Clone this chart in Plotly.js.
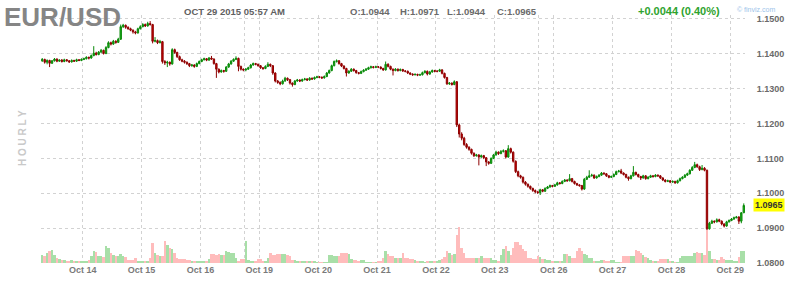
<!DOCTYPE html>
<html>
<head>
<meta charset="utf-8">
<script src="https://cdn.plot.ly/plotly-3.0.1.min.js"></script>
<style>html,body{margin:0;padding:0;background:#fff;}#chart{width:800px;height:294px;}</style>
</head>
<body>
<div id="chart"></div>
<script>
// Hourly EUR/USD bars, Oct 13 2015 07:00 -> Oct 29 2015 05:00 (one value per bar)
const opens = [
1.1380,1.1384,1.1376,1.1381,1.1373,1.1380,1.1385,1.1379,1.1382,1.1378,
1.1383,1.1380,1.1377,1.1381,1.1379,1.1383,1.1381,1.1384,1.1386,1.1390,
1.1388,1.1395,1.1402,1.1398,1.1405,1.1410,1.1401,1.1418,1.1432,1.1428,
1.1436,1.1433,1.1442,1.1478,1.1482,1.1476,1.1472,1.1468,1.1463,1.1460,
1.1472,1.1478,1.1484,1.1480,1.1487,1.1484,1.1436,1.1438,1.1432,1.1435,
1.1378,1.1374,1.1376,1.1371,1.1412,1.1404,1.1392,1.1383,1.1379,1.1376,
1.1372,1.1366,1.1368,1.1364,1.1372,1.1378,1.1383,1.1386,1.1382,1.1388,
1.1385,1.1372,1.1356,1.1348,1.1352,1.1350,1.1362,1.1371,1.1379,1.1384,
1.1387,1.1364,1.1356,1.1354,1.1356,1.1360,1.1368,1.1372,1.1370,1.1366,
1.1360,1.1358,1.1364,1.1370,1.1366,1.1345,1.1322,1.1318,1.1314,1.1322,
1.1330,1.1326,1.1316,1.1312,1.1322,1.1325,1.1322,1.1326,1.1328,1.1325,
1.1330,1.1328,1.1332,1.1334,1.1333,1.1331,1.1335,1.1345,1.1352,1.1366,
1.1378,1.1380,1.1372,1.1365,1.1358,1.1345,1.1350,1.1356,1.1352,1.1346,
1.1344,1.1349,1.1353,1.1356,1.1360,1.1363,1.1361,1.1363,1.1362,1.1358,
1.1354,1.1370,1.1364,1.1356,1.1352,1.1356,1.1352,1.1355,1.1351,1.1350,
1.1345,1.1342,1.1340,1.1341,1.1339,1.1340,1.1346,1.1350,1.1342,1.1348,
1.1352,1.1350,1.1350,1.1354,1.1344,1.1332,1.1314,1.1316,1.1312,1.1320,
1.1196,1.1170,1.1158,1.1140,1.1132,1.1126,1.1115,1.1108,1.1110,1.1104,
1.1108,1.1102,1.1090,1.1086,1.1100,1.1110,1.1118,1.1114,1.1120,1.1122,
1.1104,1.1128,1.1118,1.1092,1.1062,1.1050,1.1046,1.1032,1.1026,1.1020,
1.1014,1.1008,1.1004,1.1002,1.1010,1.1006,1.1014,1.1018,1.1022,1.1020,
1.1024,1.1030,1.1028,1.1034,1.1038,1.1036,1.1042,1.1034,1.1028,1.1024,
1.1022,1.1012,1.1040,1.1046,1.1050,1.1052,1.1044,1.1048,1.1052,1.1058,
1.1056,1.1050,1.1046,1.1048,1.1054,1.1062,1.1064,1.1058,1.1054,1.1046,
1.1042,1.1050,1.1060,1.1054,1.1048,1.1044,1.1050,1.1042,1.1046,1.1050,
1.1048,1.1052,1.1050,1.1044,1.1038,1.1034,1.1036,1.1032,1.1034,1.1030,
1.1036,1.1042,1.1046,1.1052,1.1056,1.1066,1.1074,1.1082,1.1076,1.1068,
1.1072,1.1066,1.0898,1.0914,1.0920,1.0918,1.0924,1.0920,1.0912,1.0906,
1.0918,1.0922,1.0926,1.0930,1.0932,1.0920,1.0944];

const highs = [
1.1388,1.1386,1.1384,1.1383,1.1382,1.1388,1.1387,1.1384,1.1385,1.1386,
1.1385,1.1382,1.1384,1.1383,1.1386,1.1385,1.1387,1.1389,1.1393,1.1392,
1.1398,1.1422,1.1406,1.1408,1.1414,1.1412,1.1422,1.1436,1.1435,1.1440,
1.1439,1.1446,1.1484,1.1486,1.1484,1.1479,1.1475,1.1470,1.1466,1.1475,
1.1482,1.1488,1.1487,1.1492,1.1494,1.1486,1.1448,1.1441,1.1440,1.1437,
1.1382,1.1380,1.1378,1.1416,1.1415,1.1406,1.1395,1.1386,1.1382,1.1378,
1.1374,1.1371,1.1370,1.1375,1.1381,1.1386,1.1389,1.1388,1.1391,1.1394,
1.1387,1.1374,1.1358,1.1355,1.1354,1.1365,1.1374,1.1382,1.1387,1.1393,
1.1389,1.1366,1.1358,1.1359,1.1363,1.1371,1.1375,1.1374,1.1372,1.1368,
1.1362,1.1367,1.1376,1.1372,1.1368,1.1347,1.1325,1.1321,1.1326,1.1334,
1.1332,1.1328,1.1318,1.1325,1.1328,1.1327,1.1329,1.1331,1.1330,1.1333,
1.1332,1.1335,1.1337,1.1336,1.1335,1.1338,1.1348,1.1355,1.1369,1.1381,
1.1384,1.1382,1.1374,1.1367,1.1360,1.1353,1.1359,1.1358,1.1354,1.1348,
1.1352,1.1356,1.1359,1.1363,1.1366,1.1365,1.1366,1.1365,1.1364,1.1360,
1.1378,1.1373,1.1366,1.1358,1.1359,1.1358,1.1358,1.1357,1.1353,1.1352,
1.1347,1.1344,1.1344,1.1343,1.1343,1.1349,1.1353,1.1352,1.1351,1.1355,
1.1354,1.1353,1.1357,1.1356,1.1346,1.1334,1.1319,1.1318,1.1324,1.1322,
1.1200,1.1175,1.1162,1.1144,1.1135,1.1128,1.1117,1.1113,1.1112,1.1111,
1.1110,1.1104,1.1092,1.1103,1.1113,1.1122,1.1120,1.1124,1.1126,1.1124,
1.1138,1.1131,1.1120,1.1094,1.1065,1.1053,1.1048,1.1035,1.1028,1.1022,
1.1016,1.1011,1.1007,1.1013,1.1012,1.1017,1.1021,1.1025,1.1024,1.1027,
1.1033,1.1032,1.1037,1.1041,1.1040,1.1055,1.1044,1.1036,1.1030,1.1026,
1.1024,1.1044,1.1050,1.1066,1.1056,1.1054,1.1051,1.1055,1.1061,1.1060,
1.1058,1.1052,1.1051,1.1057,1.1065,1.1067,1.1070,1.1060,1.1056,1.1048,
1.1053,1.1078,1.1062,1.1056,1.1050,1.1053,1.1052,1.1049,1.1053,1.1052,
1.1055,1.1054,1.1052,1.1046,1.1040,1.1039,1.1038,1.1037,1.1036,1.1039,
1.1045,1.1049,1.1055,1.1059,1.1069,1.1078,1.1090,1.1085,1.1079,1.1081,
1.1075,1.1068,1.0918,1.0924,1.0922,1.0928,1.0927,1.0922,1.0914,1.0921,
1.0925,1.0929,1.0933,1.0935,1.0934,1.0946,1.0971];

const lows = [
1.1377,1.1372,1.1370,1.1362,1.1371,1.1378,1.1376,1.1377,1.1375,1.1376,
1.1378,1.1374,1.1375,1.1377,1.1377,1.1379,1.1379,1.1382,1.1384,1.1384,
1.1386,1.1393,1.1395,1.1396,1.1402,1.1398,1.1399,1.1416,1.1424,1.1426,
1.1429,1.1431,1.1440,1.1474,1.1472,1.1469,1.1465,1.1458,1.1456,1.1458,
1.1470,1.1476,1.1477,1.1478,1.1481,1.1430,1.1433,1.1428,1.1430,1.1372,
1.1368,1.1362,1.1366,1.1369,1.1400,1.1388,1.1380,1.1376,1.1372,1.1368,
1.1362,1.1363,1.1360,1.1362,1.1370,1.1376,1.1381,1.1379,1.1380,1.1383,
1.1369,1.1331,1.1344,1.1346,1.1346,1.1348,1.1360,1.1369,1.1377,1.1382,
1.1350,1.1352,1.1350,1.1350,1.1354,1.1358,1.1366,1.1367,1.1363,1.1357,
1.1354,1.1356,1.1362,1.1362,1.1340,1.1318,1.1314,1.1310,1.1312,1.1320,
1.1322,1.1312,1.1306,1.1310,1.1320,1.1319,1.1320,1.1324,1.1322,1.1323,
1.1325,1.1326,1.1330,1.1330,1.1328,1.1329,1.1333,1.1343,1.1350,1.1364,
1.1375,1.1369,1.1362,1.1355,1.1335,1.1343,1.1348,1.1349,1.1343,1.1341,
1.1342,1.1347,1.1351,1.1354,1.1358,1.1358,1.1359,1.1359,1.1355,1.1351,
1.1352,1.1361,1.1353,1.1338,1.1350,1.1349,1.1350,1.1348,1.1347,1.1342,
1.1339,1.1337,1.1338,1.1336,1.1337,1.1338,1.1344,1.1338,1.1340,1.1346,
1.1347,1.1347,1.1348,1.1341,1.1329,1.1311,1.1311,1.1309,1.1310,1.1190,
1.1160,1.1152,1.1136,1.1128,1.1122,1.1111,1.1104,1.1105,1.1080,1.1102,
1.1098,1.1078,1.1082,1.1084,1.1098,1.1108,1.1110,1.1112,1.1117,1.1100,
1.1102,1.1114,1.1088,1.1058,1.1046,1.1042,1.1028,1.1022,1.1016,1.1010,
1.1004,1.1000,1.0998,1.0995,1.1003,1.1004,1.1012,1.1016,1.1017,1.1018,
1.1022,1.1025,1.1026,1.1032,1.1033,1.1034,1.1031,1.1025,1.1021,1.1019,
1.1008,1.1010,1.1038,1.1044,1.1048,1.1041,1.1042,1.1046,1.1050,1.1053,
1.1047,1.1043,1.1044,1.1046,1.1052,1.1060,1.1055,1.1051,1.1043,1.1036,
1.1040,1.1048,1.1051,1.1045,1.1038,1.1042,1.1039,1.1040,1.1044,1.1045,
1.1046,1.1047,1.1041,1.1035,1.1031,1.1032,1.1029,1.1030,1.1027,1.1028,
1.1034,1.1040,1.1044,1.1050,1.1054,1.1064,1.1072,1.1073,1.1064,1.1066,
1.1063,1.0892,1.0896,1.0912,1.0914,1.0916,1.0917,1.0908,1.0902,1.0904,
1.0916,1.0920,1.0924,1.0928,1.0912,1.0914,1.0944];

const closes = [
1.1384,1.1376,1.1381,1.1373,1.1380,1.1385,1.1379,1.1382,1.1378,1.1383,
1.1380,1.1377,1.1381,1.1379,1.1383,1.1381,1.1384,1.1386,1.1390,1.1388,
1.1395,1.1402,1.1398,1.1405,1.1410,1.1401,1.1418,1.1432,1.1428,1.1436,
1.1433,1.1442,1.1478,1.1482,1.1476,1.1472,1.1468,1.1463,1.1460,1.1472,
1.1478,1.1484,1.1480,1.1487,1.1484,1.1436,1.1438,1.1432,1.1435,1.1378,
1.1374,1.1376,1.1371,1.1412,1.1404,1.1392,1.1383,1.1379,1.1376,1.1372,
1.1366,1.1368,1.1364,1.1372,1.1378,1.1383,1.1386,1.1382,1.1388,1.1385,
1.1372,1.1356,1.1348,1.1352,1.1350,1.1362,1.1371,1.1379,1.1384,1.1387,
1.1364,1.1356,1.1354,1.1356,1.1360,1.1368,1.1372,1.1370,1.1366,1.1360,
1.1358,1.1364,1.1370,1.1366,1.1345,1.1322,1.1318,1.1314,1.1322,1.1330,
1.1326,1.1316,1.1312,1.1322,1.1325,1.1322,1.1326,1.1328,1.1325,1.1330,
1.1328,1.1332,1.1334,1.1333,1.1331,1.1335,1.1345,1.1352,1.1366,1.1378,
1.1380,1.1372,1.1365,1.1358,1.1345,1.1350,1.1356,1.1352,1.1346,1.1344,
1.1349,1.1353,1.1356,1.1360,1.1363,1.1361,1.1363,1.1362,1.1358,1.1354,
1.1370,1.1364,1.1356,1.1352,1.1356,1.1352,1.1355,1.1351,1.1350,1.1345,
1.1342,1.1340,1.1341,1.1339,1.1340,1.1346,1.1350,1.1342,1.1348,1.1352,
1.1350,1.1350,1.1354,1.1344,1.1332,1.1314,1.1316,1.1312,1.1320,1.1196,
1.1170,1.1158,1.1140,1.1132,1.1126,1.1115,1.1108,1.1110,1.1104,1.1108,
1.1102,1.1090,1.1086,1.1100,1.1110,1.1118,1.1114,1.1120,1.1122,1.1104,
1.1128,1.1118,1.1092,1.1062,1.1050,1.1046,1.1032,1.1026,1.1020,1.1014,
1.1008,1.1004,1.1002,1.1010,1.1006,1.1014,1.1018,1.1022,1.1020,1.1024,
1.1030,1.1028,1.1034,1.1038,1.1036,1.1042,1.1034,1.1028,1.1024,1.1022,
1.1012,1.1040,1.1046,1.1050,1.1052,1.1044,1.1048,1.1052,1.1058,1.1056,
1.1050,1.1046,1.1048,1.1054,1.1062,1.1064,1.1058,1.1054,1.1046,1.1042,
1.1050,1.1060,1.1054,1.1048,1.1044,1.1050,1.1042,1.1046,1.1050,1.1048,
1.1052,1.1050,1.1044,1.1038,1.1034,1.1036,1.1032,1.1034,1.1030,1.1036,
1.1042,1.1046,1.1052,1.1056,1.1066,1.1074,1.1082,1.1076,1.1068,1.1072,
1.1066,1.0898,1.0914,1.0920,1.0918,1.0924,1.0920,1.0912,1.0906,1.0918,
1.0922,1.0926,1.0930,1.0932,1.0920,1.0944,1.0965];

// relative volume per bar
const volumes = [
8,7,10,12,13,8,5,4,3,3,
2,2,3,2,2,2,2,2,2,3,
7,12,11,7,7,6,17,15,10,8,
7,7,9,7,6,3,3,3,5,2,
2,2,2,2,5,20,10,8,7,7,
22,18,15,14,10,5,4,4,4,3,
3,2,2,2,2,2,2,2,4,9,
9,8,9,8,8,12,11,10,10,5,
2,4,4,22,3,2,2,2,4,4,
2,2,5,10,8,8,9,9,9,9,
8,7,3,3,2,2,2,2,2,2,
2,2,1,1,1,1,1,8,8,7,
7,7,10,10,10,9,4,3,3,2,
3,3,1,1,1,1,1,2,2,5,
12,9,7,7,5,5,5,10,5,5,
4,4,3,2,2,2,1,2,2,2,
2,2,3,4,6,12,10,8,9,28,
36,15,10,5,5,5,5,5,5,7,
5,5,5,5,3,3,2,8,14,17,
12,8,15,21,21,18,14,12,5,5,
4,4,7,6,4,4,3,3,2,2,
2,2,2,9,9,7,5,5,12,15,
12,9,8,5,5,2,2,2,3,3,
2,2,3,3,1,1,1,7,7,7,
7,7,13,12,10,8,6,5,3,2,
2,2,4,4,4,4,2,2,1,1,
5,7,7,7,7,7,10,11,10,10,
8,33,12,4,4,3,3,6,4,3,
3,3,2,2,6,12,12];

// bar index where each labelled day starts, and its label
const dayStarts = [17, 41, 65, 89, 113, 137, 161, 185, 209, 233, 257, 281];
const dayLabels = ['Oct 14','Oct 15','Oct 16','Oct 19','Oct 20','Oct 21','Oct 22','Oct 23','Oct 26','Oct 27','Oct 28','Oct 29'];
// bar index where the weekend session breaks happen (unlabelled grid lines)
const weekBreaks = [83, 203];

const symbol = 'EUR/USD';
const stamp = 'OCT 29 2015 05:57 AM';
const lastO = 1.0944, lastH = 1.0971, lastL = 1.0944, lastC = 1.0965;
const changeText = '+0.0044 (0.40%)';

const N = closes.length;
const idx = closes.map((_, i) => i);
const volColors = closes.map((c, i) => c >= opens[i] ? '#a8dfa8' : '#ffbcbc');

const tickvals = [-0.5];
const ticktext = [''];
dayStarts.forEach((d, k) => { tickvals.push(d - 0.5); ticktext.push(dayLabels[k]); });
weekBreaks.forEach(w => { tickvals.push(w - 0.5); ticktext.push(''); });
tickvals.push(N - 0.5); ticktext.push('');

const M = {l: 41, r: 55, t: 15, b: 31};
const W = 800, H = 294;
const pw = W - M.l - M.r, ph = H - M.t - M.b;
const px = x => (x - M.l) / pw;
const py = y => (H - M.b - y) / ph;

const fam = '"Liberation Sans", Arial, sans-serif';
const grid = '#d2d2d2';

const volumeTrace = {
  type: 'bar', x: idx, y: volumes, yaxis: 'y2',
  marker: {color: volColors, line: {width: 0}},
  hoverinfo: 'skip', showlegend: false
};
const candleTrace = {
  type: 'candlestick', x: idx, open: opens, high: highs, low: lows, close: closes,
  increasing: {line: {color: '#0a8a0a', width: 1}, fillcolor: '#1db31d'},
  decreasing: {line: {color: '#8e0000', width: 1}, fillcolor: '#cf0000'},
  whiskerwidth: 0, hoverinfo: 'skip', showlegend: false
};

const hdr = (text, x, y, size, color, extra) => Object.assign({
  text: text, xref: 'paper', yref: 'paper', x: px(x), y: py(y),
  xanchor: 'left', yanchor: 'middle', showarrow: false,
  font: {family: fam, size: size, color: color, weight: 'bold'}
}, extra || {});

const layout = {
  width: W, height: H, margin: M,
  paper_bgcolor: '#ffffff', plot_bgcolor: '#ffffff',
  showlegend: false, bargap: 0, boxgap: 0.2,
  font: {family: fam, size: 9, color: '#666'},
  xaxis: {
    range: [-0.5, N - 0.5], tickmode: 'array', tickvals: tickvals, ticktext: ticktext,
    showgrid: true, gridcolor: grid, griddash: '3px,3px', gridwidth: 1,
    zeroline: false, showline: false, ticks: '',
    tickfont: {family: fam, size: 9, color: '#7a7a7a', weight: 'bold'},
    rangeslider: {visible: false}, fixedrange: true
  },
  yaxis: {
    range: [1.08, 1.08 + ph / 3486], side: 'right', tick0: 1.08, dtick: 0.01,
    tickformat: '.4f', showgrid: true, gridcolor: grid, griddash: '3px,3px', gridwidth: 1,
    zeroline: false, showline: false, ticks: 'outside', ticklen: 9, tickcolor: 'rgba(0,0,0,0)',
    tickfont: {family: fam, size: 9, color: '#6a6a6a', weight: 'bold'}, fixedrange: true
  },
  yaxis2: {overlaying: 'y', range: [0, ph], visible: false, fixedrange: true},
  annotations: [
    hdr(symbol, 2, 17, 26, '#858585'),
    hdr(stamp, 182, 12, 9.5, '#5f5f5f'),
    hdr('O:' + lastO.toFixed(4), 348, 12, 9.5, '#6a6a6a'),
    hdr('H:' + lastH.toFixed(4), 398, 12, 9.5, '#6a6a6a'),
    hdr('L:' + lastL.toFixed(4), 445, 12, 9.5, '#6a6a6a'),
    hdr('C:' + lastC.toFixed(4), 495, 12, 9.5, '#6a6a6a'),
    hdr(changeText, 636, 11, 11, '#2ea32e'),
    hdr('© finviz.com', 735, 9, 7, '#9cc4ea', {font: {family: fam, size: 7, color: '#9cc4ea'}}),
    hdr('H O U R L Y', 22, 138, 10, '#c9c9c9', {xanchor: 'center', textangle: -90}),
    {text: lastC.toFixed(4), xref: 'paper', yref: 'y', x: 1, y: lastC, xanchor: 'left', yanchor: 'middle',
     xshift: 8, showarrow: false, bgcolor: '#ffff00', borderpad: 1,
     font: {family: fam, size: 9, color: '#333', weight: 'bold'}}
  ]
};

Plotly.newPlot('chart', [volumeTrace, candleTrace], layout, {staticPlot: true, displayModeBar: false});
</script>
</body>
</html>
